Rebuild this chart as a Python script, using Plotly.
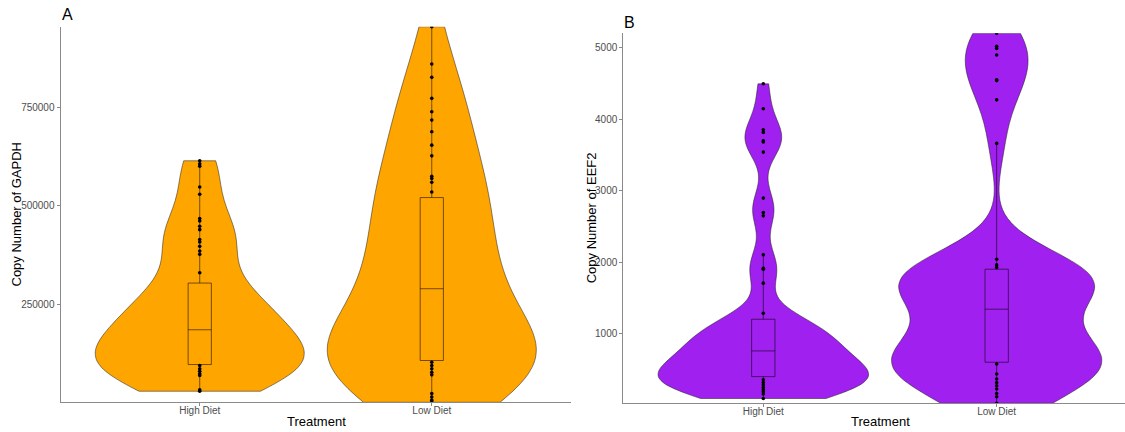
import numpy as np
import plotly.graph_objects as go

categories = ["High Diet", "Low Diet"]

# ---- Panel A : GAPDH copy number ----
# points visible outside the boxes
a_high_points = [614000, 606000, 600000, 547700, 529200, 467500, 461400, 448000, 439500,
                 414200, 408100, 397200, 385300, 376900, 330400,
                 95200, 86800, 80700, 74100, 69800, 33500, 30000]
# estimated values hidden behind the box / overlapping dots
a_high_hidden = [92000, 88000, 83000, 77000, 72000, 66000, 34000, 31000,
                 99000, 106000, 114000, 121000, 127000, 132000, 137000, 141000, 145000,
                 150000, 155000, 161000, 167000, 174000, 182000,
                 189000, 195000, 202000, 209000, 217000, 224000, 232000, 241000, 249000,
                 258000, 267000, 276000, 285000, 294000, 302000]
a_low_points = [953700, 859300, 825400, 772100, 738100, 717000, 687400, 653600, 626500,
                574900, 569000, 559600, 535000,
                103600, 95200, 86800, 78200, 71600, 24000, 15500, 7500, 2000]
a_low_hidden = [99000, 91000, 82000, 20000,
                112000, 124000, 136000, 148000, 158000, 168000, 178000, 189000, 200000,
                214000, 232000, 254000, 278000,
                298000, 312000, 328000, 346000, 365000, 384000, 405000, 427000, 449000,
                471000, 492000, 511000]
a_q1 = [97700, 107900]
a_median = [185800, 289800]
a_q3 = [304100, 520800]
a_lower = [30000, 2000]
a_upper = [614000, 953700]

# ---- Panel B : EEF2 copy number ----
b_high_points = [4495, 4147, 3853, 3816, 3699, 3681, 3541, 2898, 2697, 2650, 2105, 1918,
                 1904, 1709, 1289,
                 359, 321, 285, 251, 219, 191, 159, 97]
b_high_hidden = [372, 336, 303, 268, 236, 205, 174, 128,
                 408, 421, 433, 446, 458, 471, 486, 503, 521, 540, 563, 588, 617, 650,
                 688, 731,
                 768, 789, 814, 838, 862, 889, 917, 945, 974, 1006, 1040, 1074, 1108,
                 1142, 1175, 1199]
b_low_points = [5201, 5020, 4990, 4897, 4552, 4540, 4271, 3662, 2044, 1964, 1927,
                580, 439, 369, 321, 275, 229, 167, 121, 30]
b_low_hidden = [608, 620, 635, 652, 668, 688, 712, 740, 775, 830, 910, 1040, 1200,
                1390, 1470, 1530, 1575, 1615, 1650, 1685, 1715, 1750, 1785, 1815, 1845,
                1872, 1898]
b_q1 = [403, 604]
b_median = [762, 1345]
b_q3 = [1205, 1904]
b_lower = [97, 30]
b_upper = [2105, 3662]

ORANGE = "#FFA500"
PURPLE = "#A020F0"


def nrd0(v):
    v = np.asarray(v, dtype=float)
    sd = v.std(ddof=1)
    q75, q25 = np.percentile(v, [75, 25])
    lo = min(sd, (q75 - q25) / 1.34)
    return 0.9 * lo * len(v) ** (-0.2)


fig = go.Figure()


def add_panel(xa, ya, color, groups, q1, med, q3, lo, hi):
    for cat, (pts, hid) in zip(categories, groups):
        vals = list(pts) + list(hid)
        fig.add_trace(go.Violin(
            x=[cat] * len(vals), y=vals, xaxis=xa, yaxis=ya,
            fillcolor=color, line=dict(color="rgba(30,30,30,0.75)", width=0.7),
            spanmode="hard", bandwidth=nrd0(vals), width=0.9, points=False,
            scalemode="width", showlegend=False, hoverinfo="skip", opacity=1))
    fig.add_trace(go.Box(
        x=categories, q1=q1, median=med, q3=q3, lowerfence=lo, upperfence=hi,
        xaxis=xa, yaxis=ya, width=0.1, whiskerwidth=0, boxpoints=False,
        fillcolor=color, line=dict(color="rgba(0,0,0,0.55)", width=1),
        showlegend=False, hoverinfo="skip"))
    for cat, (pts, hid) in zip(categories, groups):
        fig.add_trace(go.Scatter(
            x=[cat] * len(pts), y=pts, xaxis=xa, yaxis=ya, mode="markers",
            marker=dict(color="black", size=3.6), showlegend=False, hoverinfo="skip"))


add_panel("x", "y", ORANGE, [(a_high_points, a_high_hidden), (a_low_points, a_low_hidden)],
          a_q1, a_median, a_q3, a_lower, a_upper)
add_panel("x2", "y2", PURPLE, [(b_high_points, b_high_hidden), (b_low_points, b_low_hidden)],
          b_q1, b_median, b_q3, b_lower, b_upper)

a_all = a_high_points + a_high_hidden + a_low_points + a_low_hidden
b_all = b_high_points + b_high_hidden + b_low_points + b_low_hidden

W, H = 1125, 432
AX = "#8a8a8a"
tickfont = dict(family="Liberation Sans, Arial", size=10, color="#4d4d4d")

common_x = dict(type="category", categoryorder="array", categoryarray=categories,
                showline=True, linecolor=AX, linewidth=1, ticks="outside", ticklen=3,
                tickcolor=AX, tickfont=tickfont, showgrid=False, zeroline=False,
                ticklabelstandoff=-4)
common_y = dict(showline=True, linecolor=AX, linewidth=1, ticks="outside", ticklen=3,
                tickcolor=AX, tickfont=tickfont, showgrid=False, zeroline=False)

fig.update_layout(
    width=W, height=H, margin=dict(l=0, r=0, t=0, b=0),
    paper_bgcolor="white", plot_bgcolor="white",
    violinmode="overlay", boxmode="overlay",
    font=dict(family="Liberation Sans, Arial", color="black"),
    xaxis=dict(domain=[60.5 / W, 571 / W], range=[-0.6, 1.6], anchor="y", **common_x),
    yaxis=dict(domain=[1 - 402.3 / H, 1 - 26.7 / H], range=[min(a_all), max(a_all)],
               tickvals=[250000, 500000, 750000], ticktext=["250000", "500000", "750000"],
               anchor="x", **common_y),
    xaxis2=dict(domain=[623.3 / W, 1.0], range=[-0.6, 1.55], anchor="y2", **common_x),
    yaxis2=dict(domain=[1 - 403.3 / H, 1 - 33.3 / H], range=[min(b_all), max(b_all)],
                tickvals=[1000, 2000, 3000, 4000, 5000], anchor="x2", **common_y),
)

ann_font = dict(family="Liberation Sans, Arial", size=13, color="black")
annotations = [
    dict(text="A", x=67 / W, y=1 - 15 / H, font=dict(family="Liberation Sans, Arial", size=16)),
    dict(text="B", x=629 / W, y=1 - 22 / H, font=dict(family="Liberation Sans, Arial", size=16)),
    dict(text="Copy Number of GAPDH", x=16 / W, y=1 - 214.5 / H, textangle=-90, font=ann_font),
    dict(text="Copy Number of EEF2", x=591 / W, y=1 - 218.3 / H, textangle=-90, font=ann_font),
    dict(text="Treatment", x=316 / W, y=1 - 421.7 / H, font=ann_font),
    dict(text="Treatment", x=880 / W, y=1 - 421.7 / H, font=ann_font),
]
for a in annotations:
    a.update(xref="paper", yref="paper", showarrow=False, xanchor="center", yanchor="middle")
fig.update_layout(annotations=annotations)

fig.write_html("out.html")
